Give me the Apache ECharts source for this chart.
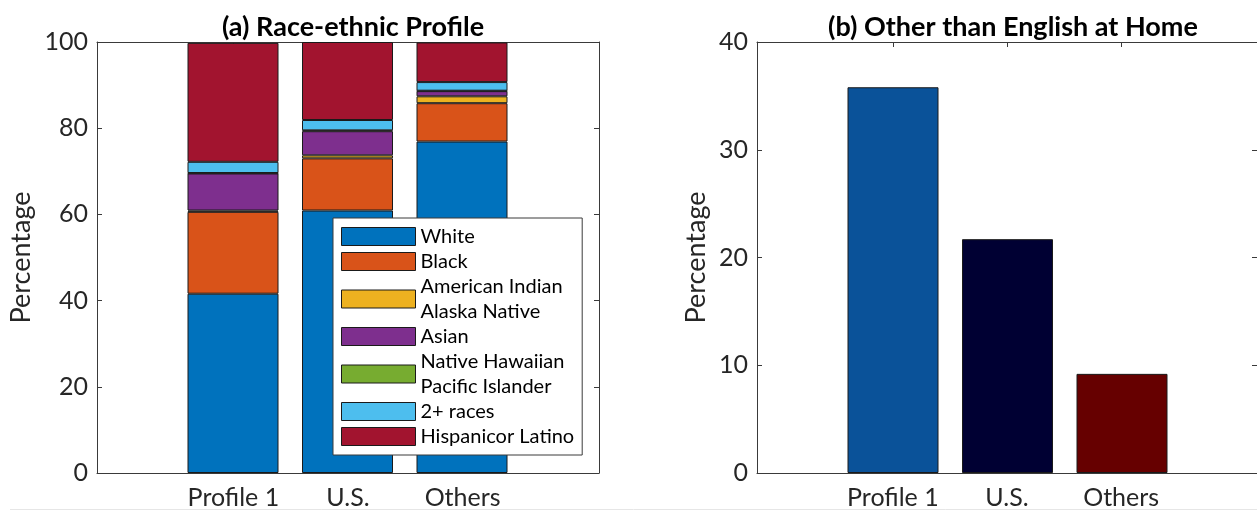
<!DOCTYPE html>
<html>
<head>
<meta charset="utf-8">
<script src="https://cdn.jsdelivr.net/npm/echarts@6/dist/echarts.min.js"></script>
<style>
html,body{margin:0;padding:0;background:#fff;}
#c{width:1257px;height:514px;}
</style>
</head>
<body>
<div id="c"></div>
<script>
// ---- data ----
var categories = ['Profile 1', 'U.S.', 'Others'];
var raceNames = ['White', 'Black', 'American Indian\nAlaska Native', 'Asian', 'Native Hawaiian\nPacific Islander', '2+ races', 'Hispanicor Latino'];
var white    = [41.6, 60.9, 76.9];
var black    = [19.0, 12.1, 8.9];
var aian     = [0.3, 0.7, 1.6];
var asian    = [8.6, 5.6, 1.2];
var nhpi     = [0.1, 0.2, 0.1];
var twoPlus  = [2.6, 2.4, 2.0];
var hispanic = [27.6, 18.1, 9.2];
var otherThanEnglish = [35.8, 21.7, 9.2];

var raceValues = [white, black, aian, asian, nhpi, twoPlus, hispanic];
var raceColors = ['#0072BD', '#D95319', '#EDB120', '#7E2F8E', '#77AC30', '#4DBEEE', '#A2142F'];
var barBColors = ['#0A5299', '#000033', '#660000'];

var FONT = 'Lato';
var TXT = '#262626';
var AX = '#3a3a3a';
var xPos = [1, 2, 3];
var XMIN = -0.19, XMAX = 4.19;

// box axes (frame, ticks, labels) for a panel
function boxXAxes(g) {
  var common = {
    type: 'value', gridIndex: g, min: XMIN, max: XMAX,
    splitLine: {show: false},
    axisLine: {show: true, onZero: false, lineStyle: {color: AX, width: 1}},
    axisTick: {show: true, inside: true, length: 5, customValues: xPos, lineStyle: {color: AX}}
  };
  return [
    Object.assign({}, common, {
      position: 'bottom',
      axisLabel: {show: true, customValues: xPos, margin: 12, fontFamily: FONT, fontSize: 25, color: TXT,
        formatter: function (v) { return categories[Math.round(v) - 1] || ''; }}
    }),
    Object.assign({}, common, {position: 'top', axisLabel: {show: false}})
  ];
}
function boxYAxes(g, max, interval, gap) {
  var common = {
    type: 'value', gridIndex: g, min: 0, max: max, interval: interval,
    splitLine: {show: false},
    axisLine: {show: true, onZero: false, lineStyle: {color: AX, width: 1}},
    axisTick: {show: true, inside: true, length: 5, lineStyle: {color: AX}}
  };
  return [
    Object.assign({}, common, {
      position: 'left',
      name: 'Percentage', nameLocation: 'middle', nameGap: gap,
      nameTextStyle: {fontFamily: FONT, fontSize: 27, color: TXT},
      axisLabel: {show: true, margin: 9, fontFamily: FONT, fontSize: 25, color: TXT}
    }),
    Object.assign({}, common, {position: 'right', axisLabel: {show: false}})
  ];
}
// hidden axes carrying the bars
function barXAxis(g) {
  return {type: 'category', gridIndex: g, data: categories, show: false, boundaryGap: true};
}
function barYAxis(g, max) {
  return {type: 'value', gridIndex: g, min: 0, max: max, show: false, splitLine: {show: false}};
}

var series = [];
raceNames.forEach(function (name, k) {
  series.push({
    type: 'bar', name: name, stack: 'race', xAxisIndex: 2, yAxisIndex: 2,
    barWidth: 91,
    itemStyle: {color: raceColors[k], borderColor: '#1a1a1a', borderWidth: 1},
    emphasis: {disabled: true},
    data: raceValues[k]
  });
});
series.push({
  type: 'bar', name: 'b', xAxisIndex: 5, yAxisIndex: 5, barWidth: 91,
  emphasis: {disabled: true},
  data: otherThanEnglish.map(function (v, i) {
    return {value: v, itemStyle: {color: barBColors[i], borderColor: '#1a1a1a', borderWidth: 1}};
  })
});

var option = {
  animation: false,
  backgroundColor: '#fff',
  title: [
    {text: '(a) Race-ethnic Profile', left: 348, top: 9, textAlign: 'center',
     textStyle: {fontFamily: FONT, fontSize: 27, fontWeight: 'bold', color: '#000'}},
    {text: '(b) Other than English at Home', left: 1008, top: 9, textAlign: 'center',
     textStyle: {fontFamily: FONT, fontSize: 27, fontWeight: 'bold', color: '#000'}}
  ],
  grid: [
    {left: 97, top: 42, width: 502, height: 431},
    {left: 175.75, top: 42, width: 343.5, height: 431},
    {left: 757, top: 42, width: 502, height: 431},
    {left: 835.75, top: 42, width: 343.5, height: 431}
  ],
  xAxis: boxXAxes(0).concat([barXAxis(1)]).concat(boxXAxes(2)).concat([barXAxis(3)]),
  yAxis: boxYAxes(0, 100, 20, 62).concat([barYAxis(1, 100)]).concat(boxYAxes(2, 40, 10, 47)).concat([barYAxis(3, 40)]),
  legend: {
    data: raceNames,
    orient: 'vertical',
    left: 333, top: 218,
    padding: [6, 8, 6, 8],
    itemGap: 0,
    itemWidth: 74, itemHeight: 18,
    icon: 'rect',
    backgroundColor: '#fff',
    borderColor: AX, borderWidth: 1,
    selectedMode: false,
    itemStyle: {borderColor: '#1a1a1a', borderWidth: 1},
    textStyle: {fontFamily: FONT, fontSize: 20, color: '#000', lineHeight: 25, padding: [0, 0, 0, 0]}
  },
  graphic: [
    {type: 'line', shape: {x1: 10, y1: 509.5, x2: 1257, y2: 509.5}, style: {stroke: '#e6e6e6', lineWidth: 1}, silent: true}
  ],
  series: series
};
var chart = echarts.init(document.getElementById('c'), null, {renderer: 'canvas'});
chart.setOption(option);
</script>
</body>
</html>
